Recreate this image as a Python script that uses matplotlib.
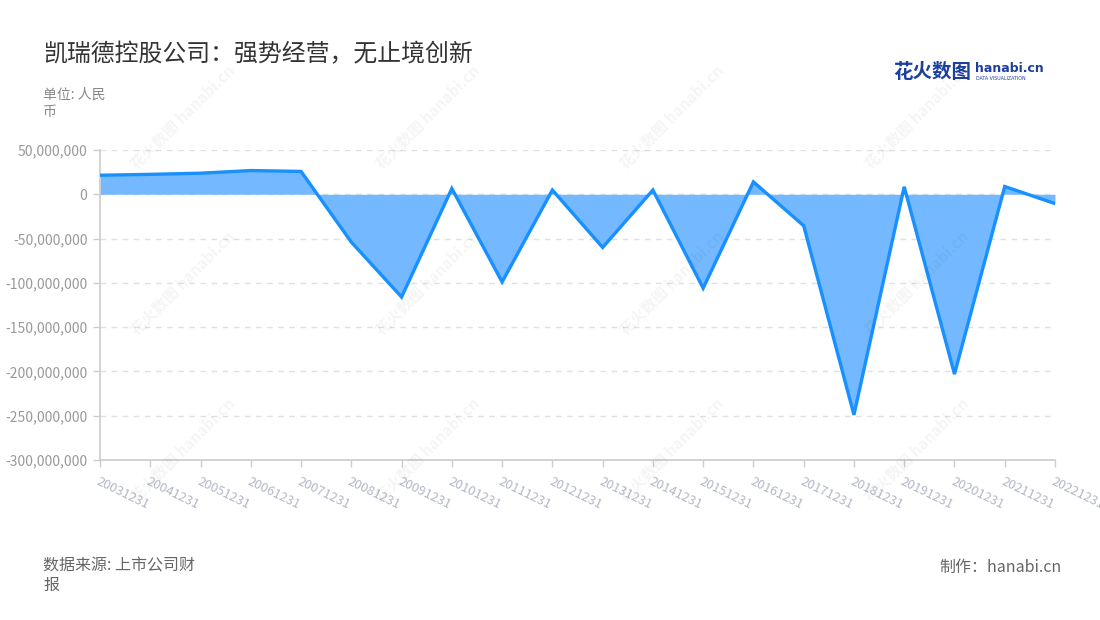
import numpy as np
import matplotlib
matplotlib.use('Agg')
import matplotlib.pyplot as plt
from matplotlib.ticker import FuncFormatter

plt.rcParams['font.family'] = ['Noto Sans CJK SC', 'DejaVu Sans']

# data (yuan)
dates = ['20031231', '20041231', '20051231', '20061231', '20071231',
         '20081231', '20091231', '20101231', '20111231', '20121231',
         '20131231', '20141231', '20151231', '20161231', '20171231',
         '20181231', '20191231', '20201231', '20211231', '20221231']
values = [21.5e6, 22.5e6, 23.8e6, 26.8e6, 25.8e6,
          -54e6, -116e6, 6.5e6, -99e6, 4.8e6,
          -60e6, 4.8e6, -106e6, 14e6, -35.5e6,
          -249e6, 8.5e6, -203e6, 8.8e6, -10.5e6]
yticks = [50e6, 0, -50e6, -100e6, -150e6, -200e6, -250e6, -300e6]

title = '凯瑞德控股公司：强势经营，无止境创新'
unit = '单位: 人民\n币'
source = '数据来源: 上市公司财\n报'
maker = '制作：hanabi.cn'

fig = plt.figure(figsize=(11, 6.2), dpi=100)
ax = fig.add_axes([100 / 1100, 1 - 460 / 620, 955 / 1100, 310 / 620])

x = np.arange(len(dates))
ax.fill_between(x, values, 0, color='#74b9ff', lw=0, zorder=2)
ax.plot(x, values, color='#1890ff', lw=2.4, zorder=3, solid_joinstyle='miter')

ax.set_xlim(0, len(dates) - 1)
ax.set_ylim(-300e6, 50e6)
ax.set_yticks(yticks)
ax.yaxis.set_major_formatter(FuncFormatter(lambda v, p: f'{int(v):,}'))
ax.set_xticks(x)
ax.set_xticklabels(dates, rotation=-26, ha='left', va='top',
                   rotation_mode='anchor', color='#b3b7c6', fontsize=9.2)
ax.tick_params(axis='y', colors='#999999', labelsize=10, length=5, width=1,
               pad=4)
ax.tick_params(axis='x', color='#cccccc', length=5, width=1, pad=6)
for lab in ax.get_yticklabels():
    lab.set_color('#999999')

ax.grid(axis='y', color='#e0e0e0', ls=(0, (4, 4)), lw=1, zorder=0)
for s in ['top', 'right']:
    ax.spines[s].set_visible(False)
for s in ['left', 'bottom']:
    ax.spines[s].set_color('#cccccc')
    ax.spines[s].set_linewidth(1.2)
ax.tick_params(axis='y', color='#cccccc')

# watermarks
for cx in [183, 428, 672, 917]:
    for cy in [117, 283, 450]:
        fig.text(cx / 1100, 1 - cy / 620, '花火数图 hanabi.cn', rotation=45,
                 ha='center', va='center', fontsize=11, color='#000000',
                 alpha=0.045, fontweight='bold', zorder=10)

fig.text(43 / 1100, 1 - 55 / 620, title, fontsize=17.2, color='#333333',
         va='center', ha='left')
fig.text(43 / 1100, 1 - 88 / 620, unit, fontsize=10, color='#888888',
         va='top', ha='left', linespacing=1.3)
fig.text(43 / 1100, 1 - 557 / 620, source, fontsize=11.5, color='#666666',
         va='top', ha='left', linespacing=1.25)
fig.text(1062 / 1100, 1 - 567 / 620, maker, fontsize=11.5, color='#666666',
         va='center', ha='right')

# logo
fig.text(893 / 1100, 1 - 73 / 620, '花火数图', fontsize=14, color='#1d3f9e',
         fontweight='bold', va='center', ha='left')
fig.text(975 / 1100, 1 - 69 / 620, 'hanabi.cn', fontsize=9, color='#1d3f9e',
         fontweight='bold', va='center', ha='left', family='DejaVu Sans')
fig.text(976 / 1100, 1 - 79 / 620, 'DATA VISUALIZATION', fontsize=3.4,
         color='#1d3f9e', va='center', ha='left', family='DejaVu Sans')

fig.savefig('out.png', dpi=100)
